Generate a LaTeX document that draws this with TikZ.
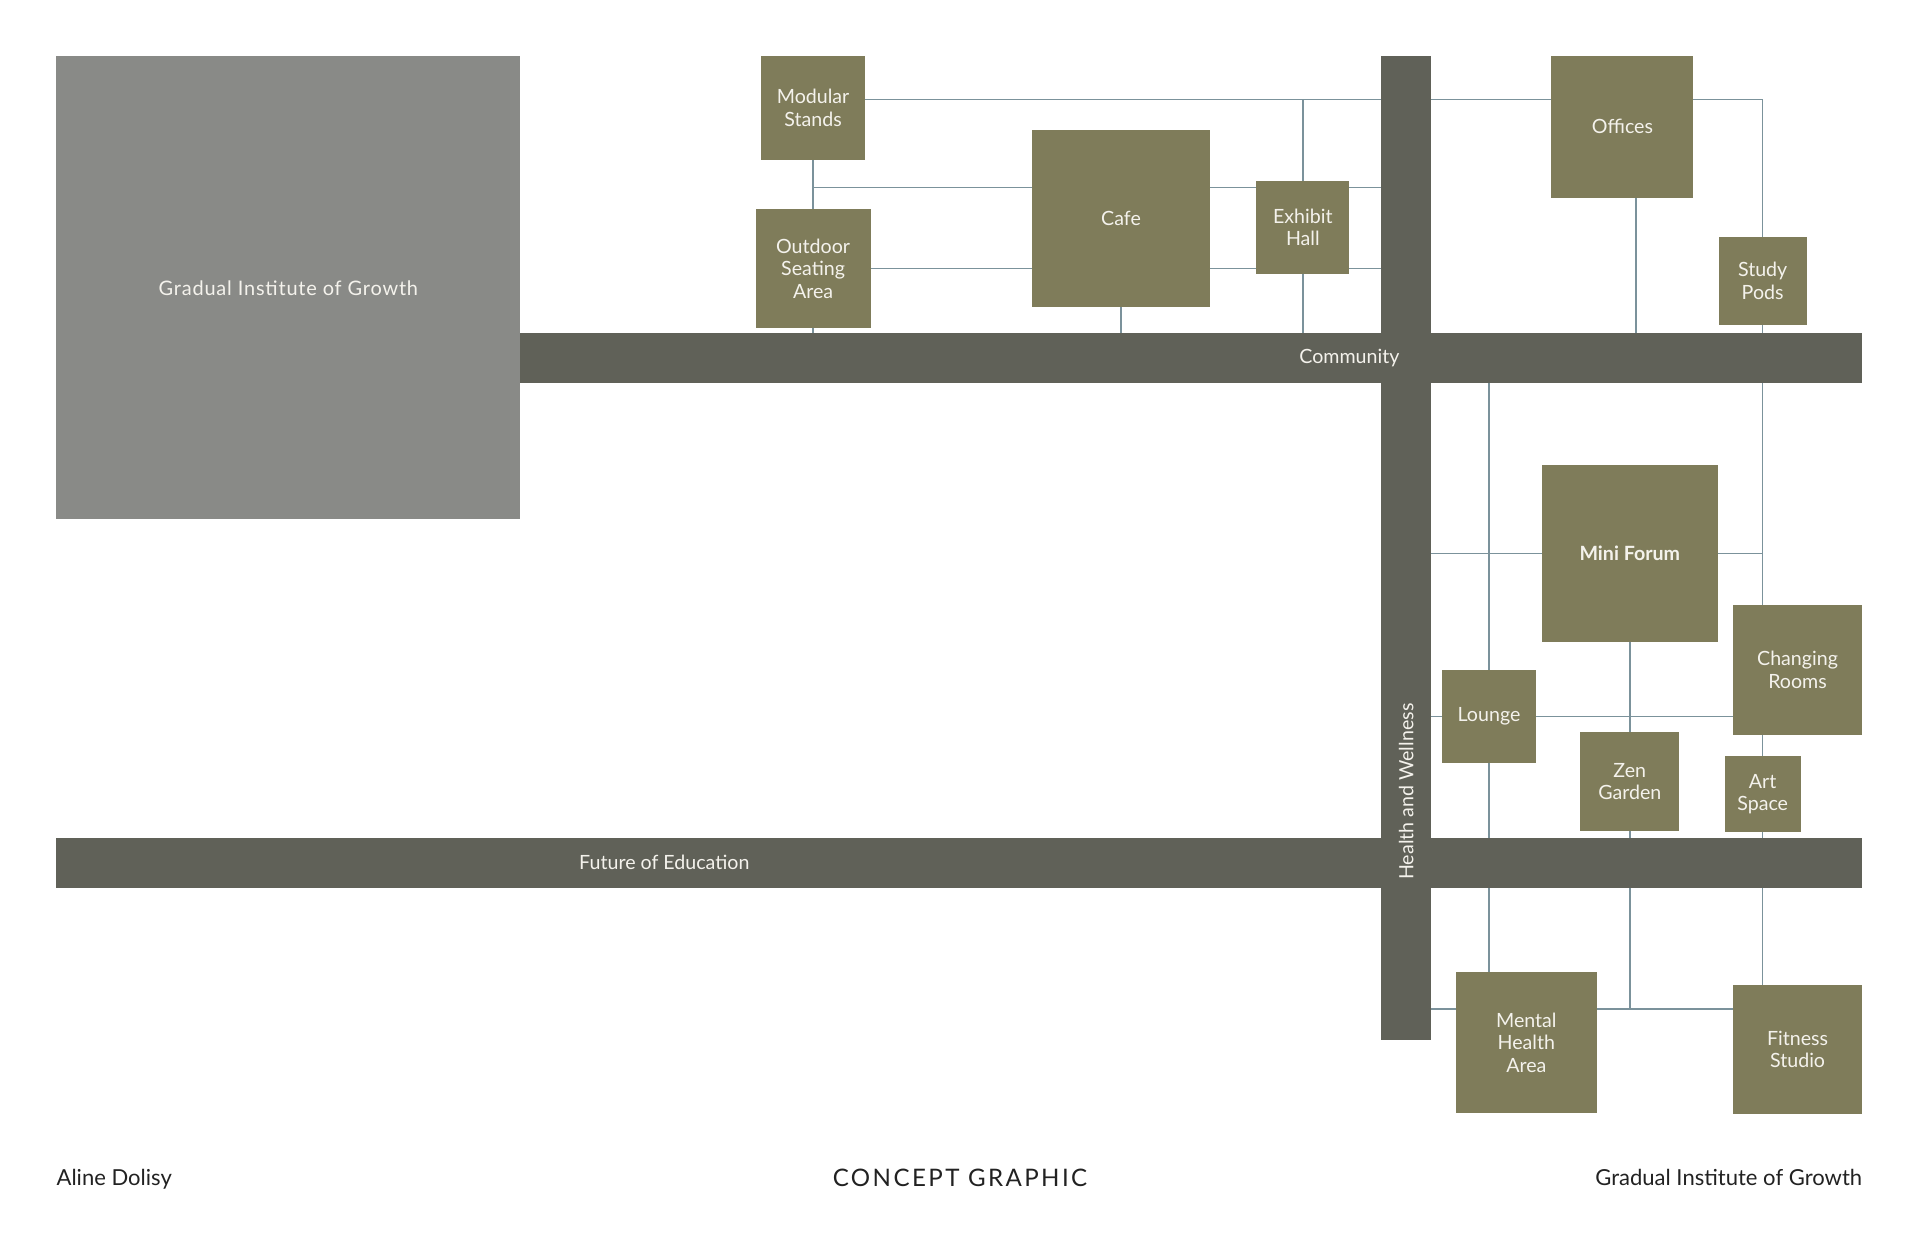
\documentclass[tikz,border=0pt]{standalone}
\usepackage{fontspec}
\setmainfont{Lato}
\newfontfamily\widefont[LetterSpace=4]{Lato}
\newfontfamily\capsfont[LetterSpace=10]{Lato}
\usepackage{xcolor}
\usepackage{tikz}
\usetikzlibrary{positioning,calc}
\newcommand{\upx}{0.25mm}
\tikzset{
  room/.style={fill=roomfill, text=roomtext, inner sep=0pt, outer sep=0pt, align=center, font=\fontsize{11.4}{13}\selectfont, minimum width=#1*\upx, minimum height=#1*\upx},
  corridor/.style={fill=barfill, inner sep=0pt, outer sep=0pt},
  barlbl/.style={text=roomtext, inner sep=0pt, font=\fontsize{11.4}{13}\selectfont},
  link/.style={draw=linkcol, line width=0.8pt},
  foot/.style={text=foottext, inner sep=0pt, font=\fontsize{12.8}{15}\selectfont},
}
\definecolor{roomfill}{HTML}{7F7C5A}
\definecolor{roomtext}{HTML}{F4F2EC}
\definecolor{barfill}{HTML}{606158}
\definecolor{bigfill}{HTML}{898A87}
\definecolor{linkcol}{HTML}{7B929B}
\definecolor{foottext}{HTML}{222222}

\begin{document}
\begin{tikzpicture}[x=0.25mm, y=-0.25mm]
  \useasboundingbox[fill=white] (0,0) rectangle (1568,1014);

  % main blocks
  \node[fill=bigfill, text=roomtext, inner sep=0pt, minimum width=379*\upx, minimum height=378*\upx, font=\widefont\fontsize{11.6}{14}\selectfont] (gig) at (235.5,235) {Gradual Institute of Growth};
  \node[corridor, minimum width=1096*\upx, minimum height=41*\upx] (comm) at (973,292.5) {};
  \node[corridor, minimum width=1475*\upx, minimum height=41*\upx] (fe) at (783.5,704.5) {};
  \node[corridor, minimum width=41*\upx, minimum height=803*\upx] (hw) at (1148.5,447.5) {};
  \node[barlbl] (commlbl) at (1102,292.5) {Community};
  \node[barlbl] (felbl) at (542.5,704.5) {Future of Education};
  \node[barlbl, rotate=90] (hwlbl) at (1148.5,646.5) {Health and Wellness};

  % community rooms
  \node[room=85] (ms) at (664,88) {Modular\\Stands};
  \node[room=94, minimum height=97*\upx] (os) at (664,219.5) {Outdoor\\Seating\\Area};
  \node[room=145] (cafe) at (915.5,178.5) {Cafe};
  \node[room=76] (eh) at (1064,185.5) {Exhibit\\Hall};
  \node[room=116] (off) at (1325,103.5) {Offices};
  \node[room=72] (sp) at (1439.5,229.5) {Study\\Pods};

  % health and wellness rooms
  \node[room=144, font=\bfseries\fontsize{11.4}{13}\selectfont] (mf) at (1331,452) {Mini Forum};
  \node[room=106] (cr) at (1468,547) {Changing\\Rooms};
  \node[room=76] (lo) at (1216,585) {Lounge};
  \node[room=81] (zg) at (1331,638.5) {Zen\\Garden};
  \node[room=62] (as) at (1439.5,648.5) {Art\\Space};
  \node[room=115] (mh) at (1246.5,851.5) {Mental\\Health\\Area};
  \node[room=106] (fs) at (1468,857) {Fitness\\Studio};

  % footer
  \node[foot, anchor=base west] (author) at (46,968) {Aline Dolisy};
  \node[foot, anchor=base, font=\capsfont\fontsize{14}{16}\selectfont] (title) at (784,969) {CONCEPT GRAPHIC};
  \node[foot, anchor=base east] (inst) at (1521,968) {Gradual Institute of Growth};

  % tracks
  \coordinate (r1) at (0,81);
  \coordinate (r2) at (0,153);
  \coordinate (r6) at (0,824);
  \coordinate (c2) at (1336,0);

  % links above community
  \draw[link] (ms.east |- r1) -- (hw.west |- r1);
  \draw[link] (eh.north |- r1) -- (eh.north);
  \draw[link] (hw.east |- r1) -- (off.west |- r1);
  \draw[link] (off.east |- r1) -| (sp.north);
  \draw[link] (ms.south) -- (os.north);
  \draw[link] (ms.south |- r2) -- (cafe.west |- r2);
  \draw[link] (cafe.east |- r2) -- (eh.west |- r2);
  \draw[link] (eh.east |- r2) -- (hw.west |- r2);
  \draw[link] (os.east) -- (cafe.west |- os.east);
  \draw[link] (cafe.east |- os.east) -- (eh.west |- os.east);
  \draw[link] (eh.east |- os.east) -- (hw.west |- os.east);
  \foreach \u in {os,cafe,eh,sp} \draw[link] (\u.south) -- (\u.south |- comm.north);
  \draw[link] (off.south -| c2) -- (c2 |- comm.north);

  % links below community
  \draw[link] (lo.north |- comm.south) -- (lo.north);
  \draw[link] (lo.south) -- (lo.south |- fe.north);
  \draw[link] (lo.south |- fe.south) -- (lo.south |- mh.north);
  \draw[link] (as.north |- comm.south) -- (as.north |- cr.north);
  \draw[link] (as.north |- cr.south) -- (as.north);
  \draw[link] (as.south) -- (as.south |- fe.north);
  \draw[link] (as.south |- fe.south) -- (as.south |- fs.north);
  \draw[link] (hw.east |- mf.west) -- (mf.west);
  \draw[link] (mf.east) -- (mf.east -| as.north);
  \draw[link] (hw.east |- lo.west) -- (lo.west);
  \draw[link] (lo.east) -- (cr.west |- lo.east);
  \draw[link] (mf.south) -- (zg.north);
  \draw[link] (zg.south) -- (zg.south |- fe.north);
  \draw[link] (zg.south |- fe.south) -- (zg.south |- r6);
  \draw[link] (hw.east |- r6) -- (mh.west |- r6);
  \draw[link] (mh.east |- r6) -- (fs.west |- r6);
\end{tikzpicture}
\end{document}
